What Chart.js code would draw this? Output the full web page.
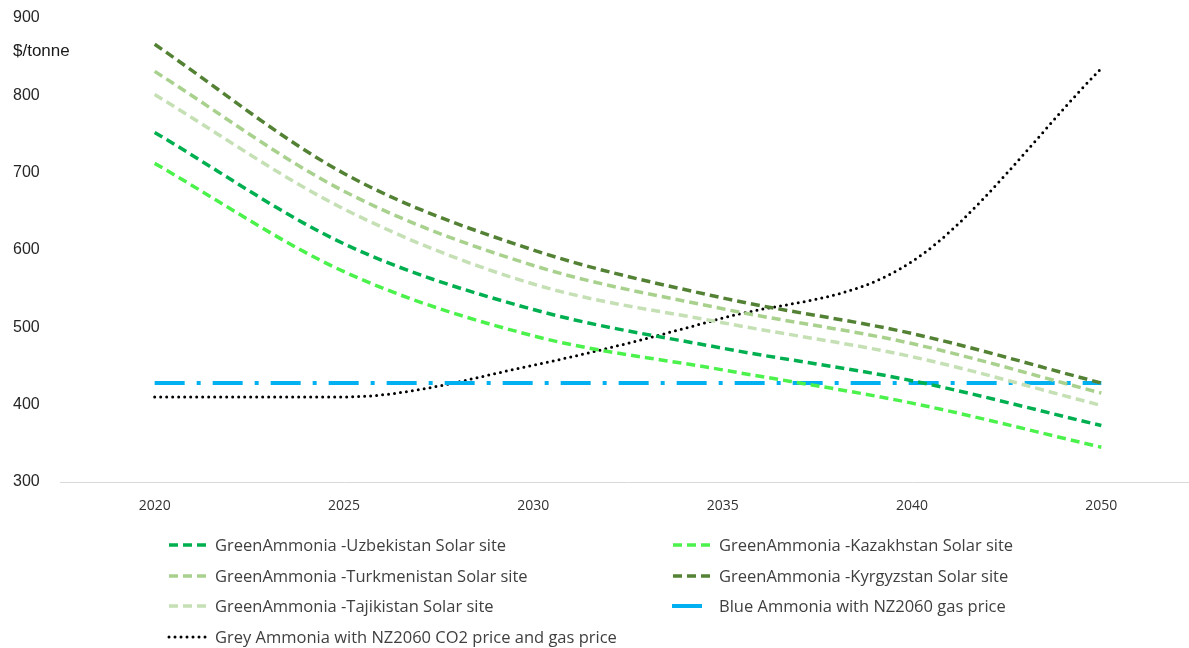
<!DOCTYPE html>
<html>
<head>
<meta charset="utf-8">
<script src="https://cdn.jsdelivr.net/npm/chart.js@4.4.1/dist/chart.umd.min.js"></script>
<style>
  html, body { margin: 0; padding: 0; background: #fff; overflow: hidden; }
  #wrap { width: 1196px; height: 648px; position: relative; }
</style>
</head>
<body>
<div id="wrap"><canvas id="ammonia"></canvas></div>
<script>
const years = ['2020', '2025', '2030', '2035', '2040', '2050'];

const uzbekistan   = [752, 608, 523, 473, 431, 373];
const kazakhstan   = [712, 572, 489, 445, 402, 345];
const turkmenistan = [831, 676, 580, 524, 479, 415];
const kyrgyzstan   = [866, 699, 600, 538, 492, 428];
const tajikistan   = [801, 653, 556, 506, 462, 399];
const blueAmmonia  = [428, 428, 428, 428, 428, 428];
const greyAmmonia  = [410, 410, 451, 512, 585, 835];

const yTicks = [300, 400, 500, 600, 700, 800, 900];
const unitLabel = '$/tonne';

const greenDash = [9, 5];

function series(label, data, color, dash, extra) {
  return Object.assign({
    label: label,
    data: data,
    borderColor: color,
    backgroundColor: color,
    borderWidth: 3.5,
    borderDash: dash,
    cubicInterpolationMode: 'monotone',
    pointRadius: 0,
    fill: false
  }, extra || {});
}

const datasets = [
  series('GreenAmmonia -Uzbekistan Solar site', uzbekistan, '#00b050', greenDash),
  series('GreenAmmonia -Kazakhstan Solar site', kazakhstan, '#4cf24c', greenDash),
  series('GreenAmmonia -Turkmenistan Solar site', turkmenistan, '#a9d18e', greenDash),
  series('GreenAmmonia -Kyrgyzstan Solar site', kyrgyzstan, '#548235', greenDash),
  series('GreenAmmonia -Tajikistan Solar site', tajikistan, '#c5e0b4', greenDash),
  series('Blue Ammonia with NZ2060 gas price', blueAmmonia, '#00b0f0', [30, 12, 4, 12], { borderWidth: 4 }),
  series('Grey Ammonia with NZ2060 CO2 price and gas price', greyAmmonia, '#000000', [0, 6], { borderWidth: 3, borderCapStyle: 'round' })
];

// two-column legend under the plot, plus the unit label beside the y axis
const extrasPlugin = {
  id: 'extras',
  afterDraw(chart) {
    const ctx = chart.ctx;
    const y = chart.scales.y;
    ctx.save();
    ctx.fillStyle = '#1a1a1a';
    ctx.font = '17px "Liberation Sans", Arial, sans-serif';
    ctx.textBaseline = 'middle';
    ctx.textAlign = 'left';
    ctx.fillText(unitLabel, 13, y.getPixelForValue(857));

    const cols = [168, 672];
    const rows = [545, 576, 606, 637];
    ctx.font = '16.5px "Open Sans", sans-serif';
    chart.data.datasets.forEach((ds, i) => {
      const x = cols[i % 2];
      const ly = rows[Math.floor(i / 2)];
      ctx.save();
      ctx.strokeStyle = ds.borderColor;
      ctx.lineWidth = ds.borderWidth;
      ctx.lineCap = ds.borderCapStyle || 'butt';
      ctx.setLineDash(ds.borderDash);
      ctx.beginPath();
      if (i === 5) {
        ctx.moveTo(x, ly); ctx.lineTo(x + 30, ly);
      } else {
        ctx.moveTo(x + 1, ly); ctx.lineTo(x + 43, ly);
      }
      ctx.stroke();
      ctx.restore();
      ctx.fillStyle = '#404040';
      ctx.fillText(ds.label, x + 47, ly + 1);
    });
    ctx.restore();
  }
};

new Chart(document.getElementById('ammonia'), {
  type: 'line',
  data: { labels: years, datasets: datasets },
  plugins: [extrasPlugin],
  options: {
    responsive: true,
    maintainAspectRatio: false,
    animation: false,
    layout: { padding: { left: 13, right: 0, top: 18, bottom: 126 } },
    plugins: {
      legend: { display: false },
      tooltip: { enabled: false }
    },
    scales: {
      x: {
        offset: true,
        grid: { display: false, offset: true },
        border: { display: true, color: '#d9d9d9', width: 1 },
        ticks: {
          color: '#333333',
          font: { family: '"Open Sans", sans-serif', size: 14 },
          padding: 8
        },
        afterFit(scale) { scale.height = 40; }
      },
      y: {
        min: 300,
        max: 900,
        grid: { display: false },
        border: { display: false },
        afterBuildTicks(scale) { scale.ticks = yTicks.map(v => ({ value: v })); },
        afterFit(scale) { scale.width = 47; },
        ticks: {
          crossAlign: 'far',
          color: '#262626',
          font: { family: '"Liberation Sans", Arial, sans-serif', size: 16 }
        }
      }
    }
  }
});
</script>
</body>
</html>
